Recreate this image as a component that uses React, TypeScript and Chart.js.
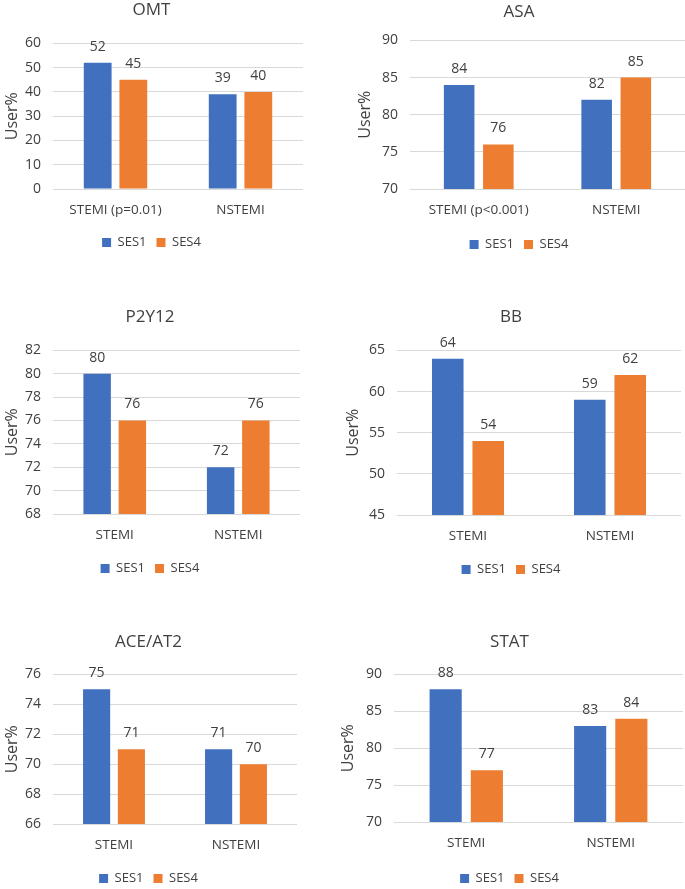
import React, { useEffect, useRef } from "react";
import { Chart, registerables } from "chart.js";

Chart.register(...registerables);

// ---------- data ----------
const seriesNames = ["SES1", "SES4"];
const omtCategories = ["STEMI (p=0.01)", "NSTEMI"];
const asaCategories = ["STEMI (p<0.001)", "NSTEMI"];
const plainCategories = ["STEMI", "NSTEMI"];

const omtSES1 = [52, 39];
const omtSES4 = [45, 40];
const asaSES1 = [84, 82];
const asaSES4 = [76, 85];
const p2y12SES1 = [80, 72];
const p2y12SES4 = [76, 76];
const bbSES1 = [64, 59];
const bbSES4 = [54, 62];
const aceSES1 = [75, 71];
const aceSES4 = [71, 70];
const statSES1 = [88, 83];
const statSES4 = [77, 84];

const titles = ["OMT", "ASA", "P2Y12", "BB", "ACE/AT2", "STAT"];
const yRanges = [
  [0, 60, 10],
  [70, 90, 5],
  [68, 82, 2],
  [45, 65, 5],
  [66, 76, 2],
  [70, 90, 5],
];
const yTitle = "User%";

// ---------- styling / layout ----------
const COLORS = ["#4170BF", "#ED7D31"];
const TEXT = "#404040";
const GRID = "#D9D9D9";
const FONT = "'Open Sans', 'Noto Sans', sans-serif";

type Layout = {
  left: number;
  top: number;
  width: number;
  height: number;
  yW: number;
  rightPad: number;
  titleGap: number;
  xH: number;
};

const layouts: Layout[] = [
  { left: 0, top: 0, width: 310, height: 259, yW: 53, rightPad: 7, titleGap: 23, xH: 37 },
  { left: 353, top: 2, width: 332, height: 259, yW: 57, rightPad: 0, titleGap: 18, xH: 39 },
  { left: 0, top: 307, width: 305, height: 278, yW: 53, rightPad: 5, titleGap: 23, xH: 38 },
  { left: 341, top: 307, width: 344, height: 279, yW: 56, rightPad: 4, titleGap: 23, xH: 38 },
  { left: 0, top: 632, width: 305, height: 263, yW: 53, rightPad: 8, titleGap: 22, xH: 38 },
  { left: 336, top: 632, width: 349, height: 263, yW: 58, rightPad: 2, titleGap: 22, xH: 40 },
];

const panels = [
  { cats: omtCategories, s1: omtSES1, s4: omtSES4 },
  { cats: asaCategories, s1: asaSES1, s4: asaSES4 },
  { cats: plainCategories, s1: p2y12SES1, s4: p2y12SES4 },
  { cats: plainCategories, s1: bbSES1, s4: bbSES4 },
  { cats: plainCategories, s1: aceSES1, s4: aceSES4 },
  { cats: plainCategories, s1: statSES1, s4: statSES4 },
];

const valueLabels = {
  id: "valueLabels",
  afterDatasetsDraw(chart: any) {
    const ctx = chart.ctx;
    ctx.save();
    ctx.font = `14px ${FONT}`;
    ctx.fillStyle = TEXT;
    ctx.textAlign = "center";
    ctx.textBaseline = "middle";
    chart.data.datasets.forEach((ds: any, i: number) => {
      const meta = chart.getDatasetMeta(i);
      meta.data.forEach((bar: any, j: number) => {
        ctx.fillText(String(ds.data[j]), bar.x, bar.y - 16);
      });
    });
    ctx.restore();
  },
};

function Panel({ idx }: { idx: number }) {
  const ref = useRef<HTMLCanvasElement>(null);
  const L = layouts[idx];
  useEffect(() => {
    const p = panels[idx];
    const [min, max, step] = yRanges[idx];
    const chart = new Chart(ref.current!, {
      type: "bar",
      data: {
        labels: p.cats,
        datasets: [
          { label: seriesNames[0], data: p.s1, backgroundColor: COLORS[0], borderWidth: 0 },
          { label: seriesNames[1], data: p.s4, backgroundColor: COLORS[1], borderWidth: 0 },
        ],
      },
      options: {
        responsive: false,
        animation: false,
        devicePixelRatio: 1,
        layout: { padding: { left: 0, right: L.rightPad, top: 0, bottom: 0 } },
        datasets: { bar: { barPercentage: 0.78, categoryPercentage: 0.57 } },
        plugins: {
          tooltip: { enabled: false },
          title: {
            display: true,
            text: titles[idx],
            color: TEXT,
            font: { family: FONT, size: 17, weight: "normal" },
            padding: { top: 0, bottom: L.titleGap },
          },
          legend: {
            position: "bottom",
            labels: {
              color: TEXT,
              boxWidth: 9,
              boxHeight: 9,
              padding: 10,
              font: { family: FONT, size: 13 },
            },
          },
        },
        scales: {
          x: {
            grid: { display: false },
            border: { display: false },
            ticks: { color: TEXT, font: { family: FONT, size: 13.5 }, padding: 5, maxRotation: 0 },
            afterFit: (s: any) => {
              s.height = L.xH;
            },
          },
          y: {
            min,
            max,
            ticks: { stepSize: step, color: TEXT, font: { family: FONT, size: 14 }, padding: 12 },
            grid: { color: GRID, lineWidth: 1, drawTicks: false },
            border: { display: false },
            title: {
              display: true,
              text: yTitle,
              color: TEXT,
              font: { family: FONT, size: 16 },
              padding: { top: 3, bottom: 0 },
            },
            afterFit: (s: any) => {
              s.width = L.yW;
            },
          },
        },
      },
      plugins: [valueLabels],
    });
    return () => chart.destroy();
  }, [idx]);
  return (
    <div style={{ position: "absolute", left: L.left, top: L.top, width: L.width, height: L.height }}>
      <canvas ref={ref} width={L.width} height={L.height} style={{ display: "block" }} />
    </div>
  );
}

export default function App() {
  return (
    <div
      style={{
        position: "absolute",
        left: 0,
        top: 0,
        width: 685,
        height: 889,
        overflow: "hidden",
        background: "#fff",
      }}
    >
      {titles.map((_, i) => (
        <Panel key={i} idx={i} />
      ))}
    </div>
  );
}
